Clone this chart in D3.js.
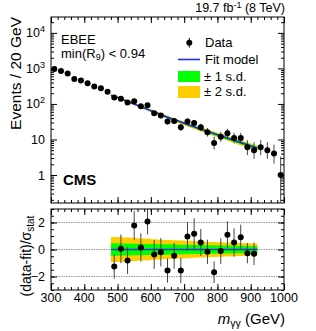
<!DOCTYPE html>
<html>
<head>
<meta charset="utf-8">
<script src="https://cdn.jsdelivr.net/npm/d3@7"></script>
<style>
  body { margin: 0; background: #fff; }
  text { font-family: "Liberation Sans", Arial, sans-serif; fill: #000; }
</style>
</head>
<body>
<div id="chart"></div>
<script>
// data
var binCenters = d3.range(310, 1000, 20);
var events = [970, 850, 720, 505, 455, 385, 310, 277, 222, 152, 141, 110, 120, 86, 92, 55, 47,
  32, 33, 22, 32, 29, 22, 16, 8, 12, 15, 11, 11, 6, 5, 6, 5, 4, 1];

var fitMass = d3.range(480, 921, 20);
var fitValue = [176, 152, 128, 108, 91, 76.5, 64.5, 54.5, 46, 39, 33.4, 28.6, 24.5, 21, 18.1,
  15.6, 13.5, 11.7, 10.1, 8.8, 7.6, 6.6, 5.7];
// band half widths, in units of sigma_stat
var sd1 = [0.46, 0.45, 0.44, 0.43, 0.42, 0.41, 0.40, 0.39, 0.38, 0.37, 0.36, 0.35, 0.34, 0.33,
  0.32, 0.31, 0.30, 0.29, 0.28, 0.27, 0.26, 0.25, 0.25];
var sd2 = [0.93, 0.91, 0.88, 0.85, 0.82, 0.79, 0.76, 0.73, 0.70, 0.68, 0.66, 0.64, 0.62, 0.60,
  0.58, 0.56, 0.54, 0.52, 0.50, 0.48, 0.46, 0.44, 0.43];

var pullMass = d3.range(490, 911, 20);
var pull = [-1.26, 0.05, -0.81, 1.78, 0.15, 2.07, -0.37, -0.2, -1.56, -0.47, -1.56, 0.96, 1.16,
  0.52, -0.17, -1.68, -0.12, 1.09, 0.52, 0.91, -0.27, -0.32];
var pullErr = [0.9, 1.06, 1.0, 1.06, 1.05, 0.95, 1.06, 1.05, 0.9, 0.95, 0.94, 1.05, 1.15, 1.0,
  0.9, 0.8, 0.95, 1.0, 1.05, 0.93, 0.75, 0.83];

var xTicks = [300, 400, 500, 600, 700, 800, 900, 1000];
var upperTicks = [1, 10, 100, 1000, 10000];
var lowerTicks = [-2, 0, 2];

var width = 316, height = 331;
var left = 51, right = 284;

var svg = d3.select('#chart')
  .append('svg')
  .attr('width', width)
  .attr('height', height);

var x = d3.scaleLinear().domain([300, 1000]).range([left, right]);
var yU = d3.scaleLog().domain([0.163, 28000]).range([203, 17]);
var yL = d3.scaleLinear().domain([-3, 3]).range([290, 209]);

var minorX = d3.range(300, 1001, 20);
var minorLog = [];
[0.1, 1, 10, 100, 1000, 10000].forEach(function (d) {
  for (var k = 2; k <= 9; k++) {
    var v = d * k;
    if (v > 0.163 && v < 28000) minorLog.push(v);
  }
});
var minorLower = d3.range(-3, 3.01, 0.5);

// garwood style poisson intervals
function poisLow(n) { return n * Math.pow(1 - 1 / (9 * n) - 1 / (3 * Math.sqrt(n)), 3); }
function poisHigh(n) { return (n + 1) * Math.pow(1 - 1 / (9 * (n + 1)) + 1 / (3 * Math.sqrt(n + 1)), 3); }

svg.append('clipPath').attr('id', 'clipU').append('rect')
  .attr('x', left).attr('y', 17).attr('width', right - left).attr('height', 186);
svg.append('clipPath').attr('id', 'clipL').append('rect')
  .attr('x', left).attr('y', 209).attr('width', right - left).attr('height', 81);

function ticks(g) {
  g.select('.domain').remove();
  g.selectAll('line').attr('stroke', '#000');
  g.selectAll('text').remove();
}

function drawAxes(yScale, yMajor, yMinor, top, bottom) {
  svg.append('g').attr('transform', 'translate(0,' + bottom + ')')
    .call(d3.axisBottom(x).tickValues(xTicks).tickSize(-6)).call(ticks);
  svg.append('g').attr('transform', 'translate(0,' + bottom + ')')
    .call(d3.axisBottom(x).tickValues(minorX).tickSize(-3)).call(ticks);
  svg.append('g').attr('transform', 'translate(0,' + top + ')')
    .call(d3.axisTop(x).tickValues(xTicks).tickSize(-6)).call(ticks);
  svg.append('g').attr('transform', 'translate(0,' + top + ')')
    .call(d3.axisTop(x).tickValues(minorX).tickSize(-3)).call(ticks);
  svg.append('g').attr('transform', 'translate(' + left + ',0)')
    .call(d3.axisLeft(yScale).tickValues(yMajor).tickSize(-6)).call(ticks);
  svg.append('g').attr('transform', 'translate(' + left + ',0)')
    .call(d3.axisLeft(yScale).tickValues(yMinor).tickSize(-3)).call(ticks);
  svg.append('g').attr('transform', 'translate(' + right + ',0)')
    .call(d3.axisRight(yScale).tickValues(yMajor).tickSize(-6)).call(ticks);
  svg.append('g').attr('transform', 'translate(' + right + ',0)')
    .call(d3.axisRight(yScale).tickValues(yMinor).tickSize(-3)).call(ticks);
  svg.append('rect')
    .attr('x', left).attr('y', top).attr('width', right - left).attr('height', bottom - top)
    .attr('fill', 'none').attr('stroke', '#000').attr('stroke-width', 1);
}

// ---------- upper panel ----------
var up = svg.append('g').attr('clip-path', 'url(#clipU)');

var fitPts = fitMass.map(function (m, i) {
  var s = Math.sqrt(fitValue[i]);
  return { m: m, f: fitValue[i], s1: sd1[i] * s, s2: sd2[i] * s };
});

up.append('path').datum(fitPts)
  .attr('fill', '#ffcc00')
  .attr('d', d3.area().curve(d3.curveMonotoneX)
    .x(function (d) { return x(d.m); })
    .y0(function (d) { return yU(d.f - d.s2); })
    .y1(function (d) { return yU(d.f + d.s2); }));
up.append('path').datum(fitPts)
  .attr('fill', '#00ff00')
  .attr('d', d3.area().curve(d3.curveMonotoneX)
    .x(function (d) { return x(d.m); })
    .y0(function (d) { return yU(d.f - d.s1); })
    .y1(function (d) { return yU(d.f + d.s1); }));
up.append('path').datum(fitPts)
  .attr('fill', 'none').attr('stroke', '#1f2fe0').attr('stroke-width', 1.6)
  .attr('d', d3.line().curve(d3.curveMonotoneX)
    .x(function (d) { return x(d.m); })
    .y(function (d) { return yU(d.f); }));

var dataPts = binCenters.map(function (m, i) { return { m: m, n: events[i] }; });

up.selectAll('line.err').data(dataPts).enter().append('line')
  .attr('class', 'err')
  .attr('x1', function (d) { return x(d.m); })
  .attr('x2', function (d) { return x(d.m); })
  .attr('y1', function (d) { return yU(Math.max(poisLow(d.n), 0.1)); })
  .attr('y2', function (d) { return yU(poisHigh(d.n)); })
  .attr('stroke', '#444').attr('stroke-width', 1);

up.selectAll('circle').data(dataPts).enter().append('circle')
  .attr('cx', function (d) { return x(d.m); })
  .attr('cy', function (d) { return yU(d.n); })
  .attr('r', 3)
  .attr('fill', '#000');

drawAxes(yU, upperTicks, minorLog, 17, 203);

// upper y labels
upperTicks.forEach(function (v) {
  var t = svg.append('text')
    .attr('x', 45).attr('y', yU(v) + 4.5)
    .attr('text-anchor', 'end')
    .style('font-size', '12.5px');
  if (v < 100) {
    t.text(v);
  } else {
    t.append('tspan').text('10');
    t.append('tspan').attr('dy', -5).style('font-size', '9px').text(Math.round(Math.log10(v)));
  }
});

// ---------- lower panel ----------
var lo = svg.append('g').attr('clip-path', 'url(#clipL)');

lowerTicks.forEach(function (v) {
  lo.append('line')
    .attr('x1', left).attr('x2', right)
    .attr('y1', yL(v)).attr('y2', yL(v))
    .attr('stroke', '#999').attr('stroke-width', 1)
    .attr('stroke-dasharray', '1.5,1');
});

lo.append('path').datum(fitPts)
  .attr('fill', '#ffcc00')
  .attr('d', d3.area().curve(d3.curveStepAfter)
    .x(function (d) { return x(d.m); })
    .y0(function (d, i) { return yL(-sd2[i]); })
    .y1(function (d, i) { return yL(sd2[i]); }));
lo.append('path').datum(fitPts)
  .attr('fill', '#00ff00')
  .attr('d', d3.area().curve(d3.curveStepAfter)
    .x(function (d) { return x(d.m); })
    .y0(function (d, i) { return yL(-sd1[i]); })
    .y1(function (d, i) { return yL(sd1[i]); }));
lo.append('line')
  .attr('x1', x(fitMass[0])).attr('x2', x(fitMass[fitMass.length - 1]))
  .attr('y1', yL(0)).attr('y2', yL(0))
  .attr('stroke', '#1f2fe0').attr('stroke-width', 1.6);

var pullPts = pullMass.map(function (m, i) { return { m: m, p: pull[i], e: pullErr[i] }; });

lo.selectAll('line.perr').data(pullPts).enter().append('line')
  .attr('class', 'perr')
  .attr('x1', function (d) { return x(d.m); })
  .attr('x2', function (d) { return x(d.m); })
  .attr('y1', function (d) { return yL(d.p - d.e); })
  .attr('y2', function (d) { return yL(d.p + d.e); })
  .attr('stroke', '#444').attr('stroke-width', 1);
lo.selectAll('circle').data(pullPts).enter().append('circle')
  .attr('cx', function (d) { return x(d.m); })
  .attr('cy', function (d) { return yL(d.p); })
  .attr('r', 3)
  .attr('fill', '#000');

drawAxes(yL, lowerTicks, minorLower, 209, 290);

lowerTicks.forEach(function (v) {
  svg.append('text')
    .attr('x', 45).attr('y', yL(v) + 4.5)
    .attr('text-anchor', 'end')
    .style('font-size', '12.5px')
    .text(v < 0 ? '\u2212' + Math.abs(v) : v);
});

xTicks.forEach(function (v) {
  svg.append('text')
    .attr('x', x(v)).attr('y', 302)
    .attr('text-anchor', 'middle')
    .style('font-size', '12.5px')
    .text(v);
});

// ---------- titles ----------
svg.append('text')
  .attr('transform', 'translate(21,17) rotate(-90)')
  .attr('text-anchor', 'end')
  .style('font-size', '15.5px')
  .text('Events / 20 GeV');

var lt = svg.append('text')
  .attr('transform', 'translate(31,256) rotate(-90)')
  .attr('text-anchor', 'middle')
  .style('font-size', '14px');
lt.append('tspan').text('(data-fit)/\u03c3');
lt.append('tspan').attr('dy', 3).style('font-size', '10px').text('stat');

var xt = svg.append('text')
  .attr('x', 285).attr('y', 324)
  .attr('text-anchor', 'end')
  .style('font-size', '15px');
xt.append('tspan').style('font-style', 'italic').text('m');
xt.append('tspan').attr('dy', 3).style('font-size', '10.5px').text('\u03b3\u03b3');
xt.append('tspan').attr('dy', -3).text(' (GeV)');

var lumi = svg.append('text')
  .attr('x', 285).attr('y', 12)
  .attr('text-anchor', 'end')
  .style('font-size', '12.5px');
lumi.append('tspan').text('19.7 fb');
lumi.append('tspan').attr('dy', -4.5).style('font-size', '9px').text('-1');
lumi.append('tspan').attr('dy', 4.5).text(' (8 TeV)');

svg.append('text').attr('x', 61).attr('y', 44).style('font-size', '13px').text('EBEE');
var r9 = svg.append('text').attr('x', 61).attr('y', 57.5).style('font-size', '13px');
r9.append('tspan').text('min(R');
r9.append('tspan').attr('dy', 2.5).style('font-size', '9px').text('9');
r9.append('tspan').attr('dy', -2.5).text(') < 0.94');

svg.append('text').attr('x', 63).attr('y', 185)
  .style('font-size', '15px').style('font-weight', 'bold').text('CMS');

// ---------- legend ----------
var lg = svg.append('g');
lg.append('line').attr('x1', 189.3).attr('x2', 189.3).attr('y1', 38).attr('y2', 47.5)
  .attr('stroke', '#000').attr('stroke-width', 1);
lg.append('circle').attr('cx', 189.3).attr('cy', 42.7).attr('r', 3).attr('fill', '#000');
lg.append('text').attr('x', 205).attr('y', 47.3).style('font-size', '13px').text('Data');

lg.append('line').attr('x1', 178).attr('x2', 200).attr('y1', 59.5).attr('y2', 59.5)
  .attr('stroke', '#1f2fe0').attr('stroke-width', 1.6);
lg.append('text').attr('x', 205).attr('y', 64.3).style('font-size', '13px').text('Fit model');

lg.append('rect').attr('x', 178).attr('y', 71).attr('width', 22).attr('height', 11)
  .attr('fill', '#00ff00');
lg.append('text').attr('x', 204).attr('y', 81.3).style('font-size', '13px').text('\u00b1 1 s.d.');

lg.append('rect').attr('x', 178).attr('y', 86).attr('width', 22).attr('height', 12)
  .attr('fill', '#ffcc00');
lg.append('text').attr('x', 204).attr('y', 96.3).style('font-size', '13px').text('\u00b1 2 s.d.');
</script>
</body>
</html>
